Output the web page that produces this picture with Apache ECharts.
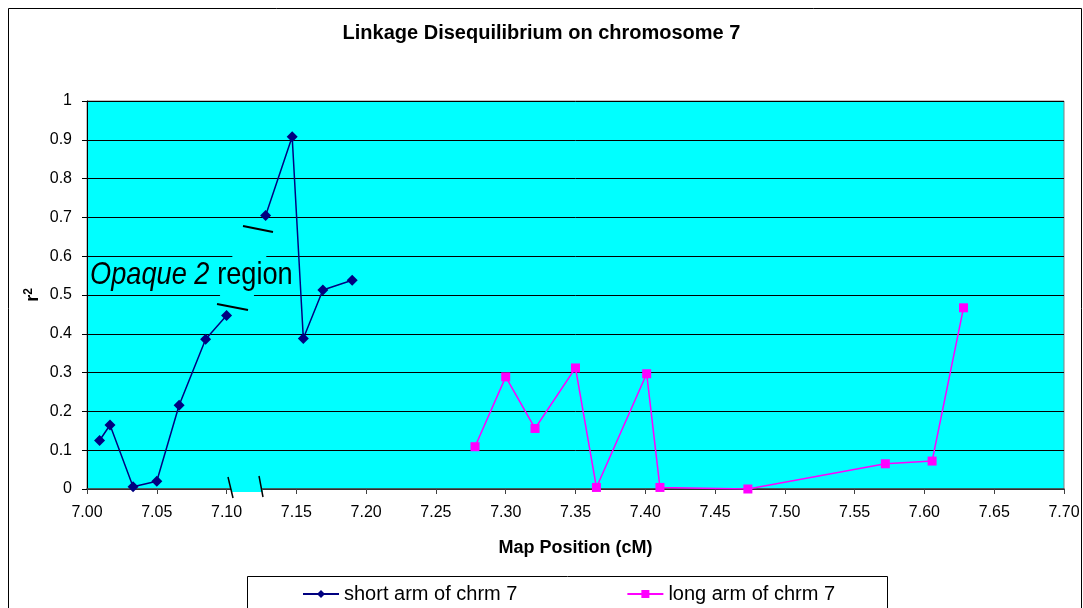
<!DOCTYPE html>
<html>
<head>
<meta charset="utf-8">
<script src="https://cdn.jsdelivr.net/npm/echarts@6/dist/echarts.min.js"></script>
<style>
  html, body { margin: 0; padding: 0; background: #fff; }
  #main { width: 1083px; height: 608px; }
</style>
</head>
<body>
<div id="main"></div>
<script>
  // short arm of chromosome 7 (line is interrupted after index shortBreak)
  var shortX = [7.009, 7.0165, 7.033, 7.050, 7.066, 7.085, 7.100, 7.128, 7.147, 7.155, 7.169, 7.190];
  var shortY = [0.125, 0.165, 0.006, 0.020, 0.216, 0.386, 0.447, 0.705, 0.908, 0.388, 0.513, 0.538];
  var shortBreak = 7;

  // long arm of chromosome 7
  var longX = [7.278, 7.300, 7.321, 7.350, 7.365, 7.401, 7.4105, 7.4735, 7.572, 7.6055, 7.628];
  var longY = [0.109, 0.289, 0.156, 0.312, 0.004, 0.297, 0.004, 0.000, 0.065, 0.072, 0.467];

  var seriesNames = ['short arm of chrm 7', 'long arm of chrm 7'];
  var xTicks = {min: 7.00, max: 7.70, step: 0.05};
  var yTicks = {min: 0, max: 1, step: 0.1};

  var shortData = [];
  shortX.forEach(function (x, i) {
    if (i === shortBreak) shortData.push(['-', '-']);
    shortData.push([x, shortY[i]]);
  });
  var longData = longX.map(function (x, i) { return [x, longY[i]]; });

  var FONT = "'Liberation Sans', Arial, sans-serif";
  var myChart = echarts.init(document.getElementById('main'));

  var option = {
    animation: false,
    backgroundColor: '#fff',
    title: {
      text: 'Linkage Disequilibrium on chromosome 7',
      left: 'center',
      top: 18,
      textStyle: {fontFamily: FONT, fontSize: 20, fontWeight: 'bold', color: '#000'}
    },
    grid: {
      left: 87, right: 19, top: 101, bottom: 119,
      show: true,
      backgroundColor: '#00FFFF',
      borderColor: '#808080',
      borderWidth: 1,
      outerBoundsMode: 'none'
    },
    legend: {
      data: seriesNames,
      left: 297,
      top: 579,
      itemWidth: 36,
      itemHeight: 10,
      itemGap: 109,
      textStyle: {fontFamily: FONT, fontSize: 20, color: '#000'}
    },
    xAxis: {
      type: 'value',
      min: xTicks.min,
      max: xTicks.max,
      interval: xTicks.step,
      name: 'Map Position (cM)',
      nameLocation: 'middle',
      nameGap: 50,
      nameTextStyle: {fontFamily: FONT, fontSize: 18, fontWeight: 'bold', color: '#000'},
      axisLine: {show: true, onZero: false, lineStyle: {color: '#404040', width: 1.5}},
      axisTick: {show: true, length: 5, lineStyle: {color: '#404040'}},
      axisLabel: {
        fontFamily: FONT, fontSize: 16, color: '#000', margin: 16,
        formatter: function (v) { return v.toFixed(2); }
      },
      splitLine: {show: false}
    },
    yAxis: {
      type: 'value',
      min: yTicks.min,
      max: yTicks.max,
      interval: yTicks.step,
      axisLine: {show: true, lineStyle: {color: '#000', width: 1}},
      axisTick: {show: true, length: 5, lineStyle: {color: '#000'}},
      axisLabel: {fontFamily: FONT, fontSize: 16, color: '#000', margin: 15},
      splitLine: {show: true, lineStyle: {color: '#000', width: 1}}
    },
    series: [
      {
        name: seriesNames[0],
        type: 'line',
        data: shortData,
        connectNulls: false,
        symbol: 'diamond',
        symbolSize: 11,
        itemStyle: {color: '#000080'},
        lineStyle: {color: '#000080', width: 1.5}
      },
      {
        name: seriesNames[1],
        type: 'line',
        data: longData,
        symbol: 'rect',
        symbolSize: 9,
        itemStyle: {color: '#FF00FF'},
        lineStyle: {color: '#FF00FF', width: 1.5}
      }
    ],
    graphic: [
      // outer chart frame
      {type: 'rect', z: 0, silent: true, shape: {x: 8.5, y: 8.5, width: 1073, height: 700},
        style: {fill: null, stroke: '#000', lineWidth: 1}},
      // legend frame
      {type: 'rect', z: 0, silent: true, shape: {x: 247.5, y: 576.5, width: 640, height: 100},
        style: {fill: null, stroke: '#000', lineWidth: 1}},
      // y axis title r²
      {type: 'text', z: 10, silent: true, x: 33, y: 295, rotation: Math.PI / 2,
        style: {
          text: '{r|r}{s|2}',
          align: 'center',
          verticalAlign: 'middle',
          rich: {
            r: {fontFamily: FONT, fontSize: 18, fontWeight: 'bold', fill: '#000'},
            s: {fontFamily: FONT, fontSize: 12, fontWeight: 'bold', fill: '#000', verticalAlign: 'top', padding: [0, 0, 8, 0]}
          }
        }},
      // cyan band behind the "Opaque 2 region" note
      {type: 'polygon', z: 1, silent: true,
        shape: {points: [[241, 229], [274, 232], [250, 308], [217, 305]]},
        style: {fill: '#00FFFF'}},
      {type: 'line', z: 10, silent: true, shape: {x1: 243, y1: 226, x2: 273, y2: 232},
        style: {stroke: '#000', lineWidth: 2}},
      {type: 'line', z: 10, silent: true, shape: {x1: 217, y1: 304, x2: 248, y2: 310},
        style: {stroke: '#000', lineWidth: 2}},
      {type: 'text', z: 10, silent: true, x: 90, y: 259, scaleX: 0.85,
        style: {
          text: '{i|Opaque 2}{n|region}',
          rich: {
            i: {fontFamily: FONT, fontSize: 32, fontStyle: 'italic', fill: '#000'},
            n: {fontFamily: FONT, fontSize: 32, fill: '#000', padding: [0, 0, 0, 9]}
          }
        }},
      // x-axis break
      {type: 'polygon', z: 10, silent: true,
        shape: {points: [[229, 480], [260, 480], [263, 492], [232, 492]]},
        style: {fill: '#00FFFF'}},
      {type: 'line', z: 10, silent: true, shape: {x1: 228, y1: 477, x2: 233, y2: 498},
        style: {stroke: '#000', lineWidth: 1.5}},
      {type: 'line', z: 10, silent: true, shape: {x1: 259, y1: 476, x2: 263, y2: 497},
        style: {stroke: '#000', lineWidth: 1.5}}
    ]
  };
  myChart.setOption(option, true);
</script>
</body>
</html>
